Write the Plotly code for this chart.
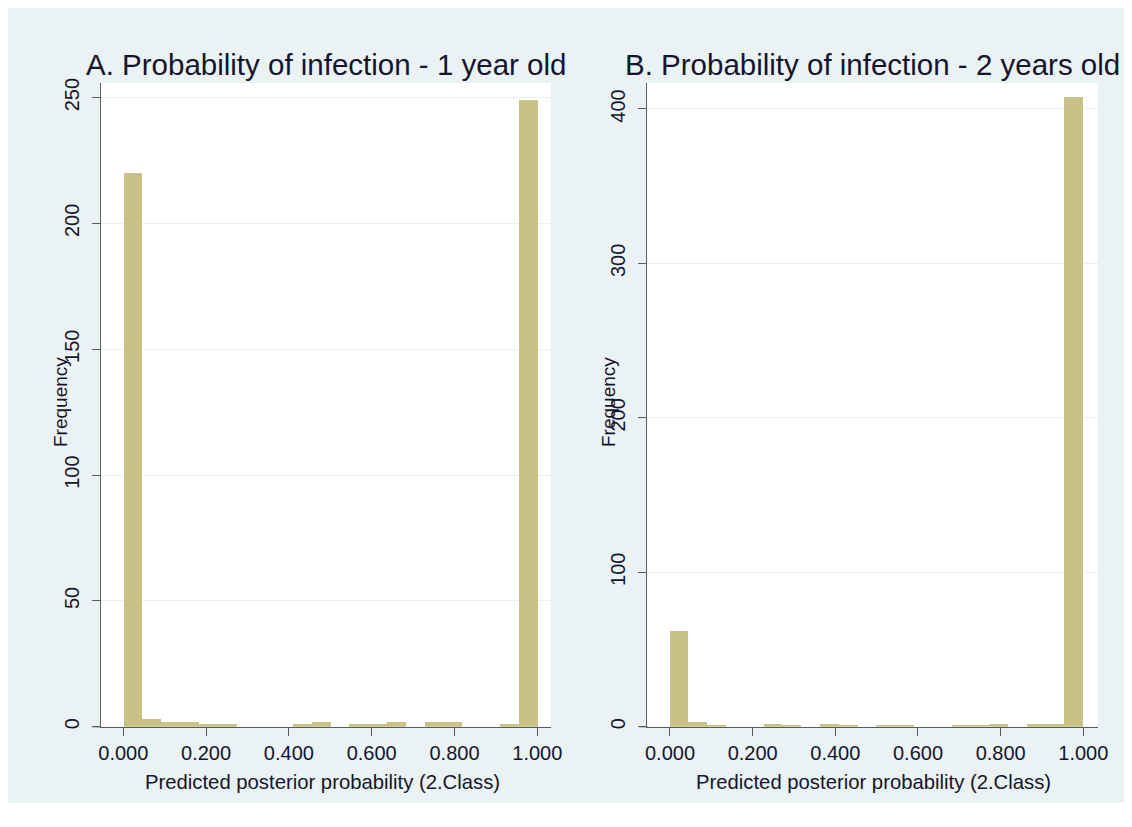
import numpy as np
import plotly.graph_objects as go

# ---- data ----
N_BINS = 22
BIN_WIDTH = 1.0 / N_BINS
counts_1yr = [220, 3, 2, 2, 1, 1, 0, 0, 0, 1, 2, 0, 1, 1, 2, 0, 2, 2, 0, 0, 1, 249]
counts_2yr = [62, 3, 1, 0, 0, 2, 1, 0, 2, 1, 0, 1, 1, 0, 0, 1, 1, 2, 0, 2, 2, 408]
x_ticks = [0.0, 0.2, 0.4, 0.6, 0.8, 1.0]
y_ticks_1yr = [0, 50, 100, 150, 200, 250]
y_ticks_2yr = [0, 100, 200, 300, 400]
title_a = "A. Probability of infection - 1 year old"
title_b = "B. Probability of infection - 2 years old"
x_title = "Predicted posterior probability (2.Class)"
y_title = "Frequency"

bin_centers = [(i + 0.5) * BIN_WIDTH for i in range(N_BINS)]

# page has an 8px body margin; the figure is placed at (8, 8)
OFF = 8
W, H = 1132 - OFF, 827 - 2 * OFF
BG = "#EAF2F3"
BAR = "#C9C185"
AXC = "#5b5b5b"
TXT = "#15152e"
FONT = "Liberation Sans, Arial, sans-serif"

def px_x(p):
    return (p - OFF) / W

def px_y(p):
    return 1 - (p - OFF) / H

fig = go.Figure()
fig.add_trace(go.Bar(x=bin_centers, y=counts_1yr, width=BIN_WIDTH,
                     marker=dict(color=BAR, line=dict(width=0)),
                     xaxis="x", yaxis="y", showlegend=False))
fig.add_trace(go.Bar(x=bin_centers, y=counts_2yr, width=BIN_WIDTH,
                     marker=dict(color=BAR, line=dict(width=0)),
                     xaxis="x2", yaxis="y2", showlegend=False))

# plot-area pixel boxes (page coordinates)
A_L, A_R = 100.7, 550.7
B_L, B_R = 647.3, 1098.0
P_T, P_B = 83.0, 726.7

common_x = dict(showline=True, linecolor=AXC, linewidth=1.3, ticks="outside",
                ticklen=8, tickwidth=1.3, tickcolor=AXC, showgrid=False,
                zeroline=False, tickvals=x_ticks, tickformat=".3f",
                tickfont=dict(size=20, color=TXT, family=FONT), automargin=False)
common_y = dict(showline=True, linecolor=AXC, linewidth=1.3, ticks="outside",
                ticklen=8, tickwidth=1.3, tickcolor=AXC, showgrid=True,
                gridcolor="#E6EFF1", gridwidth=1, zeroline=False, tickangle=-90,
                tickfont=dict(size=20, color=TXT, family=FONT), automargin=False,
                ticklabelstandoff=5)

fig.update_layout(
    width=W, height=H,
    margin=dict(l=0, r=0, t=0, b=0),
    paper_bgcolor=BG, plot_bgcolor="white",
    bargap=0, showlegend=False,
    xaxis=dict(domain=[px_x(A_L), px_x(A_R)], range=[-0.0546, 1.0324], anchor="y", **common_x),
    yaxis=dict(domain=[px_y(P_B), px_y(P_T)], range=[0, 255.8], anchor="x",
               tickvals=y_ticks_1yr, **common_y),
    xaxis2=dict(domain=[px_x(B_L), px_x(B_R)], range=[-0.0549, 1.0355], anchor="y2", **common_x),
    yaxis2=dict(domain=[px_y(P_B), px_y(P_T)], range=[0, 416.8], anchor="x2",
                tickvals=y_ticks_2yr, **common_y),
)

# white band at the bottom of the image
fig.add_shape(type="rect", xref="paper", yref="paper", x0=0, x1=1,
              y0=0, y1=px_y(803), fillcolor="white", line=dict(width=0), layer="below")
# x-axis line stubs extending left of the y axis (Stata style)
for left in (A_L, B_L):
    fig.add_shape(type="line", xref="paper", yref="paper",
                  x0=px_x(left - 8), x1=px_x(left), y0=px_y(P_B), y1=px_y(P_B),
                  line=dict(color=AXC, width=1.3))

anns = [
    dict(text=title_a, x=px_x((A_L + A_R) / 2), y=px_y(64), font=dict(size=29.5)),
    dict(text=title_b, x=px_x((B_L + B_R) / 2), y=px_y(64), font=dict(size=29.5)),
    dict(text=x_title, x=px_x(322), y=px_y(782), font=dict(size=20.3)),
    dict(text=x_title, x=px_x(873), y=px_y(782), font=dict(size=20.3)),
    dict(text=y_title, x=px_x(61), y=px_y(402), font=dict(size=19), textangle=-90),
    dict(text=y_title, x=px_x(609), y=px_y(402), font=dict(size=19), textangle=-90),
]
for a in anns:
    f = a.pop("font")
    fig.add_annotation(xref="paper", yref="paper", showarrow=False,
                       xanchor="center", yanchor="middle",
                       font=dict(family=FONT, color=TXT, **f), **a)

fig.write_html("out.html")
